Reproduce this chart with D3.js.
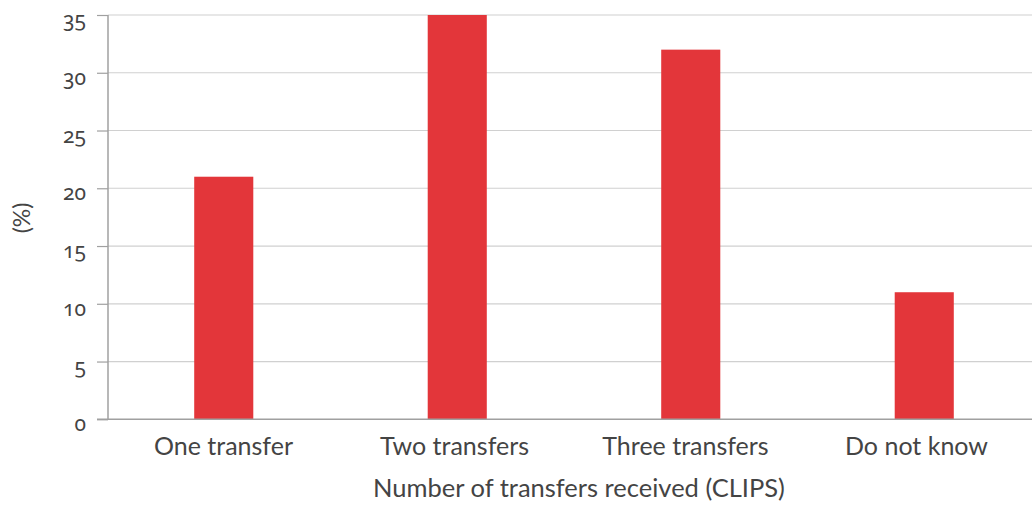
<!DOCTYPE html>
<html><head><meta charset="utf-8">
<script src="https://cdn.jsdelivr.net/npm/d3@7"></script>
<style>
html,body{margin:0;padding:0;background:#fff;}
svg{display:block;font-family:Lato,"Open Sans",sans-serif;}
.num{font-family:"Noto Sans",Lato,sans-serif;font-variant-numeric:oldstyle-nums;font-feature-settings:"onum" 1;}
</style></head>
<body><svg id="chart" width="1032" height="505"></svg>
<script>
const categories = ["One transfer","Two transfers","Three transfers","Do not know"];
const values = [21, 35, 32, 11];
const yTicks = [0,5,10,15,20,25,30,35];
const xTitle = "Number of transfers received (CLIPS)";
const yTitle = "(%)";

const svg = d3.select("#chart");
const x = d3.scaleBand().domain(categories).range([107,1041]).paddingInner(0.747).paddingOuter(0.3735);
const xLab = d3.scaleBand().domain(categories).range([108,1032]);
const y = d3.scaleLinear().domain([0,35]).range([419.3,15]);

// gridlines
svg.append("g").selectAll("line").data(yTicks.filter(d=>d>0)).join("line")
  .attr("x1",108).attr("x2",1032).attr("y1",d=>y(d)).attr("y2",d=>y(d))
  .attr("stroke","#d0d0d0").attr("stroke-width",1.2);

// bars
svg.append("g").selectAll("rect").data(values).join("rect")
  .attr("x",(d,i)=>x(categories[i])).attr("width",x.bandwidth())
  .attr("y",d=>y(d)).attr("height",d=>y(0)-y(d)).attr("fill","#e3363a");

// y axis
const yAxis = svg.append("g").attr("transform","translate(108,0)")
  .call(d3.axisLeft(y).tickValues(yTicks).tickSize(11).tickPadding(11));
yAxis.select(".domain").attr("stroke","#a0a0a0").attr("stroke-width",1.5).attr("d","M0,15V419.3");
yAxis.selectAll(".tick line").attr("stroke","#a0a0a0").attr("stroke-width",1.2);
yAxis.selectAll(".tick text").attr("class","num").attr("fill","#444").attr("dy","0.55em")
  .style("font-size","21px").attr("font-family",null);

// x axis baseline
svg.append("line").attr("x1",97).attr("x2",1032).attr("y1",y(0)).attr("y2",y(0))
  .attr("stroke","#a0a0a0").attr("stroke-width",1.5);

// x tick labels
svg.append("g").selectAll("text").data(categories).join("text")
  .attr("x",d=>xLab(d)+xLab.bandwidth()/2).attr("y",455)
  .attr("text-anchor","middle").attr("fill","#444").style("font-size","25px").text(d=>d);

// titles
svg.append("text").attr("x",579).attr("y",497).attr("text-anchor","middle")
  .attr("fill","#444").style("font-size","25.5px").text(xTitle);
svg.append("text").attr("transform","translate(30,218) rotate(-90)").attr("text-anchor","middle")
  .attr("fill","#444").style("font-size","23px").text(yTitle);
</script></body></html>
